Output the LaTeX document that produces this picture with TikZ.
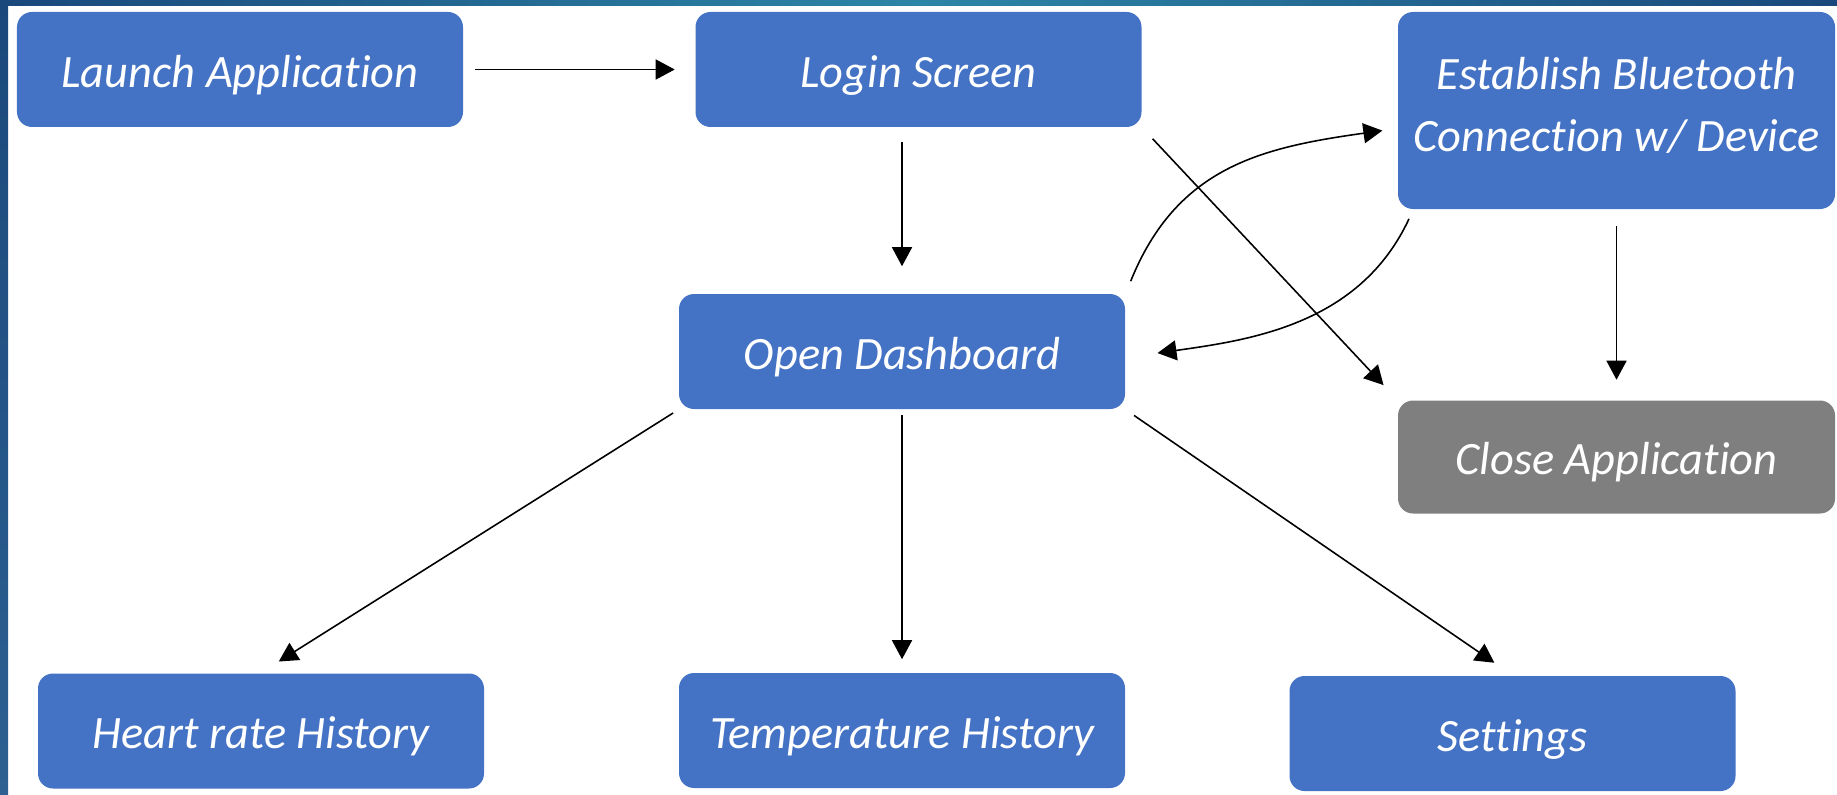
\documentclass[tikz,border=0pt]{standalone}
\usepackage{fontspec}
\setmainfont[Ligatures=NoCommon]{Carlito}
\usetikzlibrary{arrows.meta}
\definecolor{boxblue}{RGB}{68,114,196}
\definecolor{boxgrey}{RGB}{127,127,127}
\definecolor{bandnavy}{RGB}{26,72,124}
\definecolor{bandteal}{RGB}{44,134,166}
\definecolor{bandlow}{RGB}{46,96,146}

\begin{document}
\begin{tikzpicture}[>={Triangle[length=0.19cm,width=0.2cm]}, line width=0.45pt]
	\tikzstyle{every node} = [rectangle, rounded corners=0.15cm, fill=boxblue, align=center, text=white, font=\fontsize{13.2}{17.6}\selectfont\itshape, minimum width=4.46cm, minimum height=1.15cm, inner sep=0pt, text height=0.43cm]
	\useasboundingbox (0,0) rectangle (18.37,-7.94);
	%slide border strips
	\shade[left color=bandnavy, right color=bandteal] (0,0) rectangle (9.2,-0.06);
	\shade[left color=bandteal, right color=bandnavy] (9.2,0) rectangle (18.37,-0.06);
	\shade[top color=bandnavy, bottom color=bandlow] (0,0) rectangle (0.08,-7.94);
	\node (launch) at (2.40,-0.695) {Launch Application};
	\node (login) at (9.185,-0.695) {Login Screen};
	\node[minimum width=4.37cm, minimum height=1.97cm, text height=0.97cm, text depth=0.145cm] (bt) at (16.165,-1.105) {Establish Bluetooth\\Connection w/ Device};
	\node[fill=boxgrey, minimum width=4.37cm, minimum height=1.13cm] (close) at (16.165,-4.57) {Close Application};
	\node (dash) at (9.02,-3.515) {Open Dashboard};
	\node (heart) at (2.61,-7.31) {Heart rate History};
	\node (temp) at (9.02,-7.305) {Temperature History};
	\node (settings) at (15.125,-7.335) {Settings};
	\draw
	(launch.east) edge[->, shorten <=0.11cm, shorten >=0.2cm] (login.west)
	(login.south -| dash.north) edge[->, shorten <=0.14cm, shorten >=0.27cm] (dash.north)
	(login.south east) edge[->, shorten <=0.15cm, shorten >=0.2cm] (close.north west)
	(dash.north east) edge[->, out=68, in=188, looseness=1.1, shorten <=0.13cm, shorten >=0.15cm] ([yshift=-0.18cm]bt.west)
	([xshift=0.16cm]bt.south west) edge[->, out=245, in=8, shorten <=0.1cm, shorten >=0.32cm] ([yshift=-0.06cm]dash.east)
	(bt.south) edge[->, shorten <=0.16cm, shorten >=0.2cm] (close.north)
	(dash.south west) edge[->, shorten <=0.06cm, shorten >=0.21cm] (heart.north)
	(dash.south) edge[->, shorten <=0.05cm, shorten >=0.13cm] (temp.north)
	(dash.south east) edge[->, shorten <=0.1cm, shorten >=0.22cm] (settings.north)
	;
\end{tikzpicture}
\end{document}
